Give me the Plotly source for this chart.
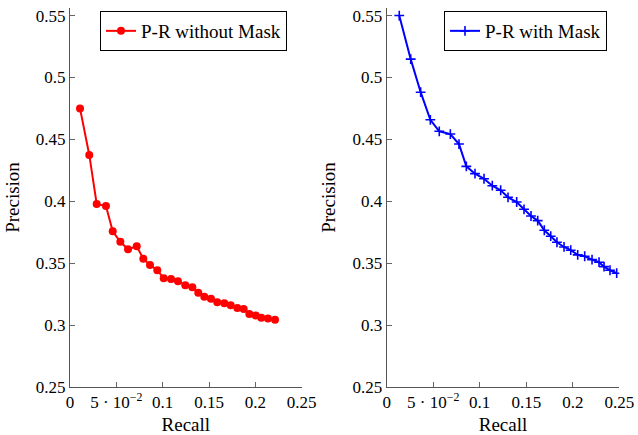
import plotly.graph_objects as go

# ---- data ----
recall_no_mask = [0.0108, 0.0208, 0.0288, 0.0388, 0.0461, 0.0543, 0.0626, 0.0720, 0.0791, 0.0863,
                  0.0942, 0.1011, 0.1090, 0.1165, 0.1244, 0.1320, 0.1384, 0.1449, 0.1521, 0.1589,
                  0.1665, 0.1734, 0.1805, 0.1874, 0.1935, 0.2004, 0.2064, 0.2136, 0.2212]
precision_no_mask = [0.4750, 0.4374, 0.3979, 0.3961, 0.3757, 0.3673, 0.3612, 0.3636, 0.3536, 0.3486,
                     0.3443, 0.3378, 0.3373, 0.3354, 0.3322, 0.3306, 0.3262, 0.3228, 0.3212, 0.3185,
                     0.3177, 0.3161, 0.3139, 0.3129, 0.3089, 0.3077, 0.3059, 0.3053, 0.3043]

recall_mask = [0.0135, 0.0258, 0.0365, 0.0469, 0.0565, 0.0684, 0.0777, 0.0856, 0.0949, 0.1046,
               0.1135, 0.1225, 0.1304, 0.1397, 0.1476, 0.1551, 0.1623, 0.1694, 0.1763, 0.1830,
               0.1906, 0.1978, 0.2053, 0.2128, 0.2207, 0.2282, 0.2336, 0.2400, 0.2472]
precision_mask = [0.5500, 0.5148, 0.4881, 0.4658, 0.4565, 0.4543, 0.4462, 0.4282, 0.4223, 0.4182,
                  0.4126, 0.4089, 0.4032, 0.3994, 0.3935, 0.3881, 0.3844, 0.3766, 0.3718, 0.3669,
                  0.3631, 0.3605, 0.3567, 0.3556, 0.3529, 0.3508, 0.3472, 0.3443, 0.3419]

x_tick_vals = [0, 0.05, 0.1, 0.15, 0.2, 0.25]
x_tick_text = ["0", "5 · 10<sup>−2</sup>", "0.1", "0.15", "0.2", "0.25"]
y_tick_vals = [0.25, 0.3, 0.35, 0.4, 0.45, 0.5, 0.55]
y_tick_text = ["0.25", "0.3", "0.35", "0.4", "0.45", "0.5", "0.55"]

FONT = "Liberation Serif"
W, H = 638, 435

fig = go.Figure()
fig.add_trace(go.Scatter(
    x=recall_no_mask, y=precision_no_mask, mode="lines+markers",
    name="P-R without Mask",
    line=dict(color="#ff0000", width=2),
    marker=dict(symbol="circle", size=8, color="#ff0000"),
    xaxis="x", yaxis="y", legend="legend"))
fig.add_trace(go.Scatter(
    x=recall_mask, y=precision_mask, mode="lines+markers",
    name="P-R with Mask",
    line=dict(color="#0000ff", width=2),
    marker=dict(symbol="cross-thin", size=7, color="#0000ff",
                line=dict(color="#0000ff", width=1.6)),
    xaxis="x2", yaxis="y2", legend="legend2"))

axis_common = dict(
    ticks="inside", ticklen=5, tickwidth=1, tickcolor="#666666",
    showline=True, linecolor="#555555", linewidth=1,
    showgrid=False, zeroline=False, automargin=False,
    ticklabeloverflow="allow",
    tickfont=dict(family=FONT, size=17, color="black"),
)

def xaxis(domain, anchor):
    return dict(axis_common, domain=domain, anchor=anchor, range=[0, 0.25],
                tickvals=x_tick_vals, ticktext=x_tick_text,
                title=dict(text="Recall", font=dict(family=FONT, size=19, color="black"),
                           standoff=6))

def yaxis(domain, anchor):
    return dict(axis_common, domain=domain, anchor=anchor, range=[0.25, 0.5561],
                tickvals=y_tick_vals, ticktext=y_tick_text,
                title=dict(text="Precision", font=dict(family=FONT, size=19, color="black"),
                           standoff=11))

top_px, bottom_px = 8, 387
ydom = [(H - bottom_px) / H, (H - top_px) / H]

legend_common = dict(
    bgcolor="white", bordercolor="black", borderwidth=1,
    font=dict(family=FONT, size=19, color="black"),
    xanchor="left", yanchor="top", itemwidth=30, tracegroupgap=0,
)

fig.update_layout(
    width=W, height=H,
    margin=dict(l=0, r=0, t=0, b=0),
    paper_bgcolor="white", plot_bgcolor="white",
    showlegend=True,
    xaxis=xaxis([70 / W, 301.7 / W], "y"),
    yaxis=yaxis(ydom, "x"),
    xaxis2=xaxis([386.7 / W, 619.3 / W], "y2"),
    yaxis2=yaxis(ydom, "x2"),
    legend=dict(legend_common, x=100 / W, y=1 - 11 / H),
    legend2=dict(legend_common, x=444 / W, y=1 - 11 / H),
)

fig.write_html(
    "out.html",
    config={"displayModeBar": False},
    post_script="document.body.style.margin='0px';document.body.style.overflow='hidden';",
)
